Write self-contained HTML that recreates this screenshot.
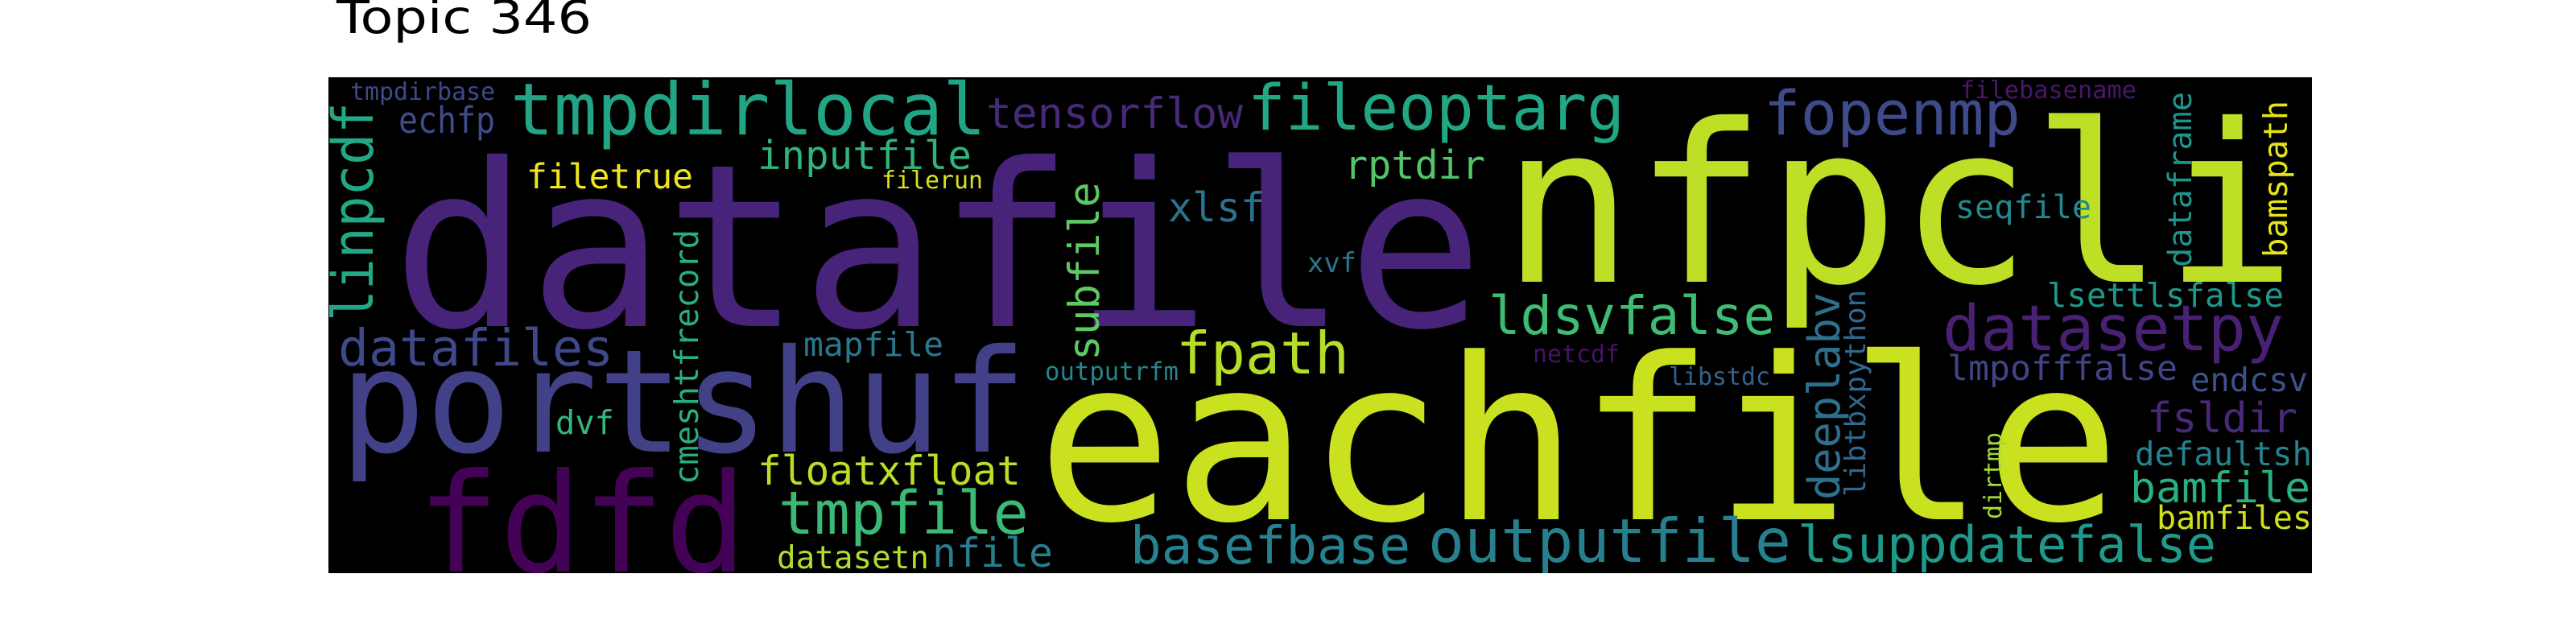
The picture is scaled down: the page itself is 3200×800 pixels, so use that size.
<!DOCTYPE html>
<html><head><meta charset="utf-8"><style>html,body{margin:0;padding:0;background:#fff}svg{display:block}</style></head>
<body>
<svg width="3200" height="800" viewBox="0 0 3200 800" xmlns="http://www.w3.org/2000/svg">
<defs><clipPath id="c"><rect x="408" y="96" width="2464" height="616"/></clipPath></defs>
<text x="418" y="41" font-family="DejaVu Sans, Liberation Sans, sans-serif" font-size="57" fill="#000" textLength="317" lengthAdjust="spacingAndGlyphs">Topic 346</text>
<rect x="408" y="96" width="2464" height="616" fill="#000"/>
<g clip-path="url(#c)" font-family="DejaVu Sans Mono, Liberation Mono, monospace" lengthAdjust="spacingAndGlyphs">
<text x="487" y="405" font-size="282" fill="#48237a" textLength="1356" lengthAdjust="spacingAndGlyphs">datafile</text>
<text x="1865" y="350" font-size="274" fill="#bddf26" textLength="988" lengthAdjust="spacingAndGlyphs">nfpcli</text>
<text x="422" y="561" font-size="178" fill="#424086" textLength="854" lengthAdjust="spacingAndGlyphs">portshuf</text>
<text x="1288" y="645" font-size="280" fill="#cae11f" textLength="1346" lengthAdjust="spacingAndGlyphs">eachfile</text>
<text x="518" y="710" font-size="171" fill="#440256" textLength="410" lengthAdjust="spacingAndGlyphs">fdfd</text>
<text x="435" y="124" font-size="30" fill="#3e4989" textLength="180" lengthAdjust="spacingAndGlyphs">tmpdirbase</text>
<text x="495" y="165" font-size="45" fill="#3e4c8a" textLength="120" lengthAdjust="spacingAndGlyphs">echfp</text>
<text x="634" y="167" font-size="89" fill="#21a585" textLength="591" lengthAdjust="spacingAndGlyphs">tmpdirlocal</text>
<text x="654" y="234" font-size="43" fill="#f1e51d" textLength="207" lengthAdjust="spacingAndGlyphs">filetrue</text>
<text x="420" y="454" font-size="63" fill="#3f4889" textLength="342" lengthAdjust="spacingAndGlyphs">datafiles</text>
<text x="690" y="539" font-size="41" fill="#35b779" textLength="73" lengthAdjust="spacingAndGlyphs">dvf</text>
<text x="941" y="602" font-size="50" fill="#bade28" textLength="327" lengthAdjust="spacingAndGlyphs">floatxfloat</text>
<text x="967" y="663" font-size="74" fill="#3aba76" textLength="311" lengthAdjust="spacingAndGlyphs">tmpfile</text>
<text x="965" y="706" font-size="39" fill="#b2dd2d" textLength="189" lengthAdjust="spacingAndGlyphs">datasetn</text>
<text x="1158" y="704" font-size="50" fill="#287d8e" textLength="150" lengthAdjust="spacingAndGlyphs">nfile</text>
<text x="941" y="210" font-size="49" fill="#2fb47c" textLength="266" lengthAdjust="spacingAndGlyphs">inputfile</text>
<text x="1095" y="234" font-size="30" fill="#d8e219" textLength="126" lengthAdjust="spacingAndGlyphs">filerun</text>
<text x="998" y="442" font-size="41" fill="#2a788e" textLength="174" lengthAdjust="spacingAndGlyphs">mapfile</text>
<text x="1225" y="159" font-size="53" fill="#482979" textLength="319" lengthAdjust="spacingAndGlyphs">tensorflow</text>
<text x="1550" y="161" font-size="78" fill="#22a785" textLength="468" lengthAdjust="spacingAndGlyphs">fileoptarg</text>
<text x="1451" y="275" font-size="50" fill="#2c728e" textLength="120" lengthAdjust="spacingAndGlyphs">xlsf</text>
<text x="1624" y="338" font-size="34" fill="#2a768e" textLength="61" lengthAdjust="spacingAndGlyphs">xvf</text>
<text x="1461" y="464" font-size="72" fill="#b5de2b" textLength="215" lengthAdjust="spacingAndGlyphs">fpath</text>
<text x="1298" y="472" font-size="31" fill="#25848e" textLength="166" lengthAdjust="spacingAndGlyphs">outputrfm</text>
<text x="1404" y="700" font-size="64" fill="#26828e" textLength="348" lengthAdjust="spacingAndGlyphs">basefbase</text>
<text x="1670" y="222" font-size="49" fill="#54c568" textLength="175" lengthAdjust="spacingAndGlyphs">rptdir</text>
<text x="1849" y="415" font-size="66" fill="#3dbc74" textLength="356" lengthAdjust="spacingAndGlyphs">ldsvfalse</text>
<text x="1904" y="450" font-size="30" fill="#471365" textLength="108" lengthAdjust="spacingAndGlyphs">netcdf</text>
<text x="2073" y="478" font-size="30" fill="#33638d" textLength="126" lengthAdjust="spacingAndGlyphs">libstdc</text>
<text x="1774" y="698" font-size="75" fill="#27808e" textLength="451" lengthAdjust="spacingAndGlyphs">outputfile</text>
<text x="2233" y="698" font-size="62" fill="#1f9a8a" textLength="520" lengthAdjust="spacingAndGlyphs">lsuppdatefalse</text>
<text x="2191" y="167" font-size="76" fill="#3e4a89" textLength="319" lengthAdjust="spacingAndGlyphs">fopenmp</text>
<text x="2435" y="122" font-size="30" fill="#481769" textLength="219" lengthAdjust="spacingAndGlyphs">filebasename</text>
<text x="2429" y="271" font-size="40" fill="#23898e" textLength="169" lengthAdjust="spacingAndGlyphs">seqfile</text>
<text x="2543" y="381" font-size="41" fill="#1f988b" textLength="294" lengthAdjust="spacingAndGlyphs">lsettlsfalse</text>
<text x="2413" y="435" font-size="78" fill="#482173" textLength="424" lengthAdjust="spacingAndGlyphs">datasetpy</text>
<text x="2419" y="472" font-size="43" fill="#414487" textLength="286" lengthAdjust="spacingAndGlyphs">lmpofffalse</text>
<text x="2721" y="486" font-size="41" fill="#3b528b" textLength="146" lengthAdjust="spacingAndGlyphs">endcsv</text>
<text x="2667" y="537" font-size="52" fill="#482878" textLength="187" lengthAdjust="spacingAndGlyphs">fsldir</text>
<text x="2652" y="578" font-size="41" fill="#26828e" textLength="220" lengthAdjust="spacingAndGlyphs">defaultsh</text>
<text x="2646" y="624" font-size="53" fill="#2ab07f" textLength="224" lengthAdjust="spacingAndGlyphs">bamfile</text>
<text x="2679" y="657" font-size="40" fill="#d0e11c" textLength="193" lengthAdjust="spacingAndGlyphs">bamfiles</text>
<text transform="translate(463,399) rotate(-90)" font-size="70" fill="#22a884" textLength="272" lengthAdjust="spacingAndGlyphs">linpcdf</text>
<text transform="translate(867,602) rotate(-90)" font-size="41" fill="#29af7f" textLength="317" lengthAdjust="spacingAndGlyphs">cmeshtfrecord</text>
<text transform="translate(1365,448) rotate(-90)" font-size="53" fill="#5ec962" textLength="222" lengthAdjust="spacingAndGlyphs">subfile</text>
<text transform="translate(2285,621) rotate(-90)" font-size="54" fill="#2d708e" textLength="258" lengthAdjust="spacingAndGlyphs">deeplabv</text>
<text transform="translate(2317,617) rotate(-90)" font-size="36" fill="#31688e" textLength="257" lengthAdjust="spacingAndGlyphs">libtbxpython</text>
<text transform="translate(2486,645) rotate(-90)" font-size="30" fill="#a2da37" textLength="108" lengthAdjust="spacingAndGlyphs">dirtmp</text>
<text transform="translate(2722,332) rotate(-90)" font-size="40" fill="#1f948c" textLength="218" lengthAdjust="spacingAndGlyphs">dataframe</text>
<text transform="translate(2841,320) rotate(-90)" font-size="41" fill="#e5e419" textLength="195" lengthAdjust="spacingAndGlyphs">bamspath</text>
</g>
</svg>
</body></html>
